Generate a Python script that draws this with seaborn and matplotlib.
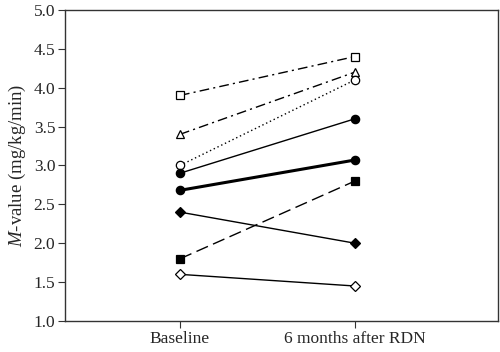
import numpy as np
import pandas as pd
import matplotlib.pyplot as plt
import seaborn as sns

timepoints = ['Baseline', '6 months after RDN']
open_square = [3.9, 4.4]
open_triangle = [3.4, 4.2]
open_circle = [3.0, 4.1]
filled_circle = [2.9, 3.6]
mean_line = [2.68, 3.07]
filled_diamond = [2.4, 2.0]
filled_square = [1.8, 2.8]
open_diamond = [1.6, 1.45]

series = [
    (open_square, 's', 'white', (0, (7, 3, 1.5, 3)), 1.0),
    (open_triangle, '^', 'white', (0, (7, 3, 1.5, 3)), 1.0),
    (open_circle, 'o', 'white', (0, (1, 2)), 1.0),
    (filled_circle, 'o', 'black', '-', 1.0),
    (mean_line, 'o', 'black', '-', 2.2),
    (filled_diamond, 'D', 'black', '-', 1.0),
    (filled_square, 's', 'black', (0, (9, 4)), 1.0),
    (open_diamond, 'D', 'white', '-', 1.0),
]

sns.set_style('ticks')
plt.rcParams['font.family'] = ['Liberation Serif', 'DejaVu Serif']
plt.rcParams['mathtext.fontset'] = 'custom'
plt.rcParams['mathtext.it'] = 'Liberation Serif:italic'
plt.rcParams['mathtext.rm'] = 'Liberation Serif'

fig, ax = plt.subplots(figsize=(5, 3.52), dpi=100)
fig.subplots_adjust(left=0.13, right=0.996, bottom=0.088, top=0.972)

for vals, mk, fc, ls, lw in series:
    df = pd.DataFrame({'time': timepoints, 'M': vals})
    ms = 5.5 if mk == 'D' else 6
    sns.lineplot(data=df, x='time', y='M', ax=ax, color='black', lw=lw,
                 linestyle=ls, marker=mk, markersize=ms,
                 markerfacecolor=fc, markeredgecolor='black', markeredgewidth=0.9)

ax.set_xlim(-0.657, 1.817)
ax.set_ylim(1.0, 5.0)
ax.set_yticks(np.arange(1.0, 5.01, 0.5))
ax.set_yticklabels([f'{v:.1f}' for v in np.arange(1.0, 5.01, 0.5)])
ax.set_xlabel('')
ax.set_ylabel('$M$-value (mg/kg/min)', fontsize=13.5, labelpad=4)
ax.tick_params(labelsize=12.5, length=5, width=0.8, color='#333333', pad=2)
for s in ax.spines.values():
    s.set_linewidth(1.0)
    s.set_color('#333333')

plt.savefig('out.png')
